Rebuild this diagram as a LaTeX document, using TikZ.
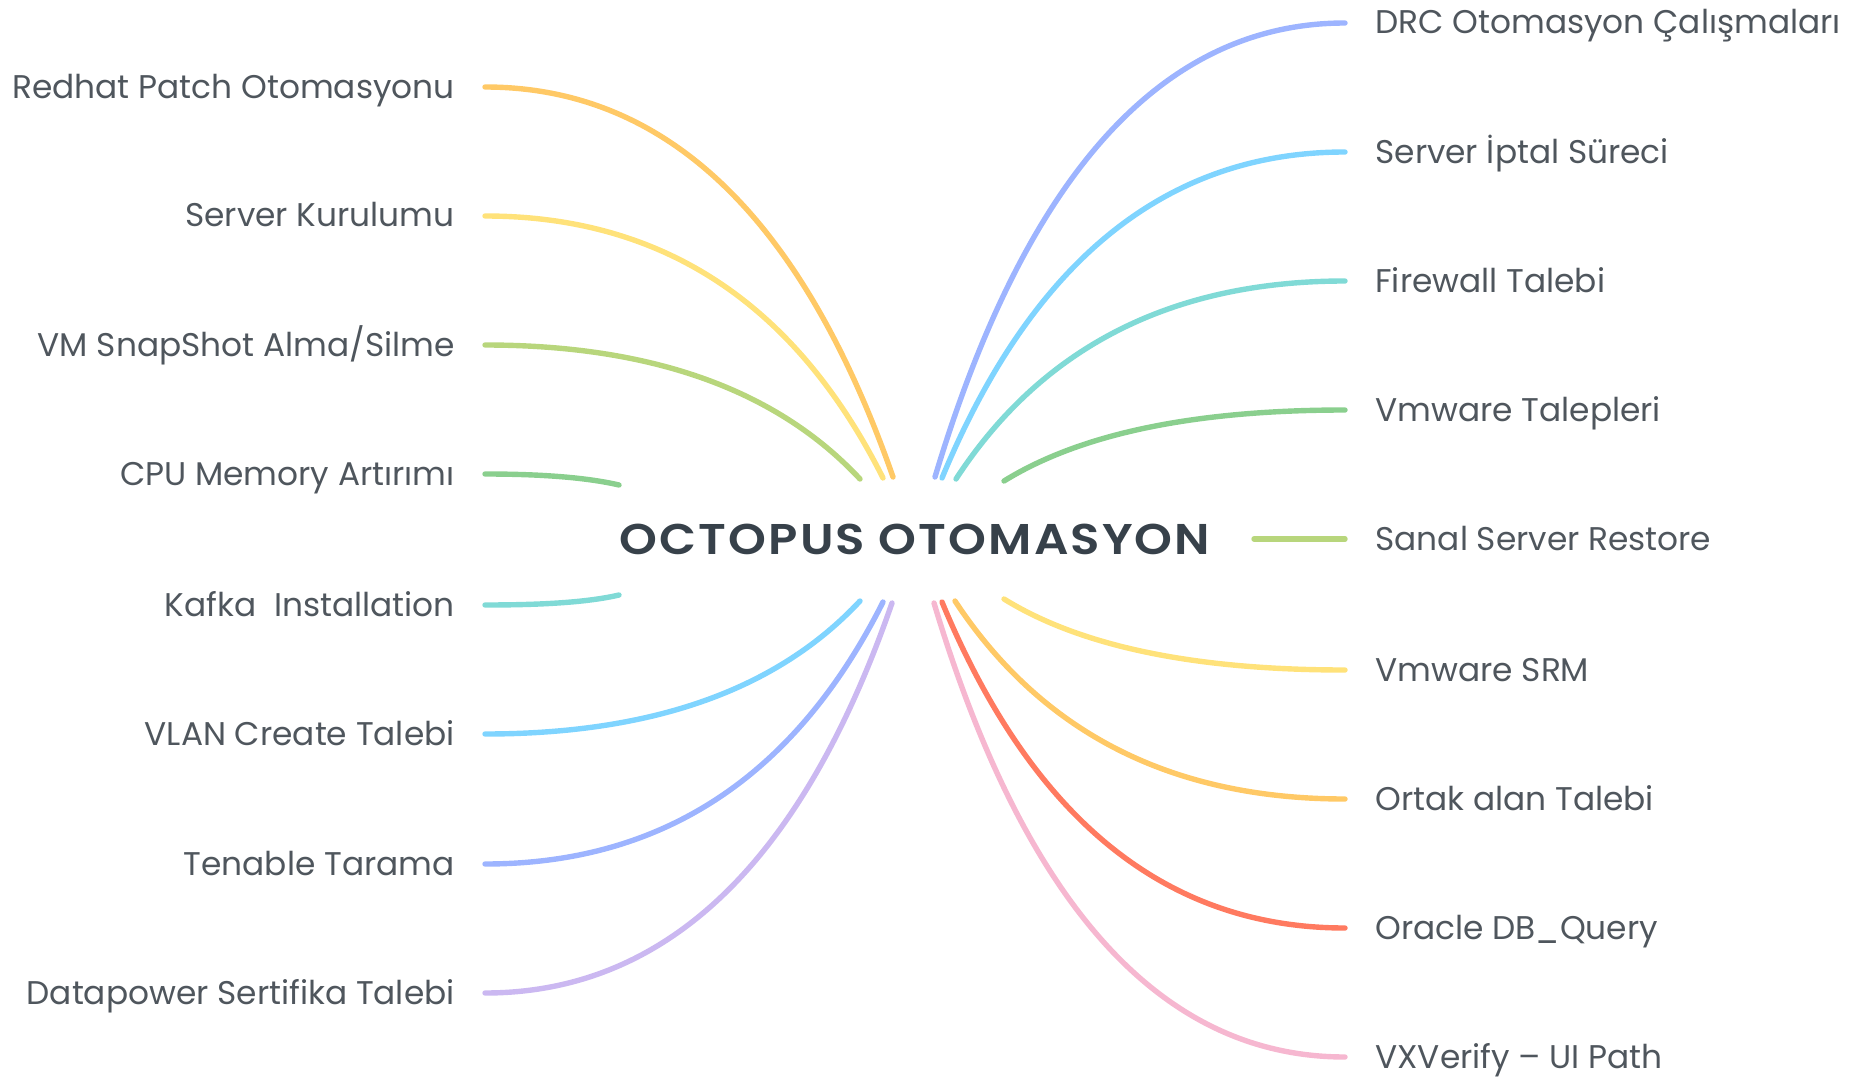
\documentclass[tikz,border=0pt]{standalone}
\usepackage{fontspec}
\setmainfont{Poppins}
\IfFontExistsTF{Poppins SemiBold}
	{\newfontfamily\hubfont{Poppins SemiBold}[FakeStretch=1.12,LetterSpace=5]}
	{\newfontfamily\hubfont{Poppins}[FakeStretch=1.12,LetterSpace=5]\def\hubfontbf{\bfseries}}
\usepackage{tikz}

\definecolor{txtgray}{HTML}{4F565D}
\definecolor{hubgray}{HTML}{37414A}
\definecolor{cOrange}{HTML}{FFC966}
\definecolor{cYellow}{HTML}{FFE27A}
\definecolor{cLime}{HTML}{B8D67C}
\definecolor{cGreen}{HTML}{8ACF8E}
\definecolor{cTeal}{HTML}{80DAD6}
\definecolor{cSky}{HTML}{7FD4FF}
\definecolor{cBlue}{HTML}{9DB4FF}
\definecolor{cLilac}{HTML}{CBB8F1}
\definecolor{cRed}{HTML}{FF7A60}
\definecolor{cPink}{HTML}{F6B7D0}

\begin{document}
\begin{tikzpicture}[x=0.5pt,y=0.5pt,yscale=-1,xscale=1,
	leaf/.style={inner xsep=15pt,inner ysep=0pt,text height=14pt,text depth=3pt,text=txtgray,font=\fontsize{16.4}{19}\selectfont},
	branch/.style={line width=2.7pt,line cap=round}]
	%set diagram size 1858 x 1081
	\path[use as bounding box] (0,0) rectangle (1858,1081);
	
	% Center Node
	\node [text=hubgray,inner sep=0pt,font=\hubfont\csname hubfontbf\endcsname\fontsize{21.5}{25}\selectfont] (hub) at (915,539) {OCTOPUS OTOMASYON};
	
	% Text Node (left)
	\node [leaf,anchor=east] (redhat) at (485,87) {Redhat Patch Otomasyonu};
	\node [leaf,anchor=east] (kurulum) at (485,216) {Server Kurulumu};
	\node [leaf,anchor=east] (snapshot) at (485,345) {VM SnapShot Alma/Silme};
	\node [leaf,anchor=east] (cpumem) at (485,474) {CPU Memory Artırımı};
	\node [leaf,anchor=east] (kafka) at (485,605) {Kafka\ \ Installation};
	\node [leaf,anchor=east] (vlan) at (485,734) {VLAN Create Talebi};
	\node [leaf,anchor=east] (tenable) at (485,864) {Tenable Tarama};
	\node [leaf,anchor=east] (datapower) at (485,993) {Datapower Sertifika Talebi};
	% Text Node (right)
	\node [leaf,anchor=west] (drc) at (1345,23) {DRC Otomasyon Çalışmaları};
	\node [leaf,anchor=west] (iptal) at (1345,152) {Server İptal Süreci};
	\node [leaf,anchor=west] (firewall) at (1345,281) {Firewall Talebi};
	\node [leaf,anchor=west] (vmtalep) at (1345,410) {Vmware Talepleri};
	\node [leaf,anchor=west] (restore) at (1345,539) {Sanal Server Restore};
	\node [leaf,anchor=west] (srm) at (1345,670) {Vmware SRM};
	\node [leaf,anchor=west] (ortak) at (1345,799) {Ortak alan Talebi};
	\node [leaf,anchor=west] (oracle) at (1345,928) {Oracle DB\_Query};
	\node [leaf,anchor=west] (vxverify) at (1345,1057) {VXVerify – UI Path};
	
	% Branch ends at the center
	\coordinate (hRedhat) at (893,477);
	\coordinate (hKurulum) at (883,478);
	\coordinate (hSnapshot) at (860,479);
	\coordinate (hCpumem) at (619,485);
	\coordinate (hKafka) at (619,595);
	\coordinate (hVlan) at (860,601);
	\coordinate (hTenable) at (883,602);
	\coordinate (hDatapower) at (892,603);
	\coordinate (hDrc) at (935,477);
	\coordinate (hIptal) at (942,478);
	\coordinate (hFirewall) at (956,479);
	\coordinate (hVmtalep) at (1004,481);
	\coordinate (hRestore) at (1254,539);
	\coordinate (hSrm) at (1004,599);
	\coordinate (hOrtak) at (955,601);
	\coordinate (hOracle) at (942,602);
	\coordinate (hVxverify) at (934,603);
	
	%Curve Lines (left)
	\draw [branch,cOrange] (redhat.east) .. controls (666,87) and (802,217) .. (hRedhat);
	\draw [branch,cYellow] (kurulum.east) .. controls (662,216) and (795,303) .. (hKurulum);
	\draw [branch,cLime] (snapshot.east) .. controls (652,345) and (777,390) .. (hSnapshot);
	\draw [branch,cGreen] (cpumem.east) .. controls (545,474) and (589,478) .. (hCpumem);
	\draw [branch,cTeal] (kafka.east) .. controls (545,605) and (589,602) .. (hKafka);
	\draw [branch,cSky] (vlan.east) .. controls (652,734) and (777,690) .. (hVlan);
	\draw [branch,cBlue] (tenable.east) .. controls (662,864) and (795,777) .. (hTenable);
	\draw [branch,cLilac] (datapower.east) .. controls (666,993) and (802,863) .. (hDatapower);
	%Curve Lines (right)
	\draw [branch,cBlue] (drc.west) .. controls (1163,23) and (1026,174) .. (hDrc);
	\draw [branch,cSky] (iptal.west) .. controls (1166,152) and (1032,261) .. (hIptal);
	\draw [branch,cTeal] (firewall.west) .. controls (1172,281) and (1042,347) .. (hFirewall);
	\draw [branch,cGreen] (vmtalep.west) .. controls (1193,410) and (1080,434) .. (hVmtalep);
	\draw [branch,cLime] (restore.west) -- (hRestore);
	\draw [branch,cYellow] (srm.west) .. controls (1193,670) and (1080,646) .. (hSrm);
	\draw [branch,cOrange] (ortak.west) .. controls (1172,799) and (1042,733) .. (hOrtak);
	\draw [branch,cRed] (oracle.west) .. controls (1166,928) and (1032,819) .. (hOracle);
	\draw [branch,cPink] (vxverify.west) .. controls (1162,1057) and (1025,906) .. (hVxverify);
	
\end{tikzpicture}
\end{document}
